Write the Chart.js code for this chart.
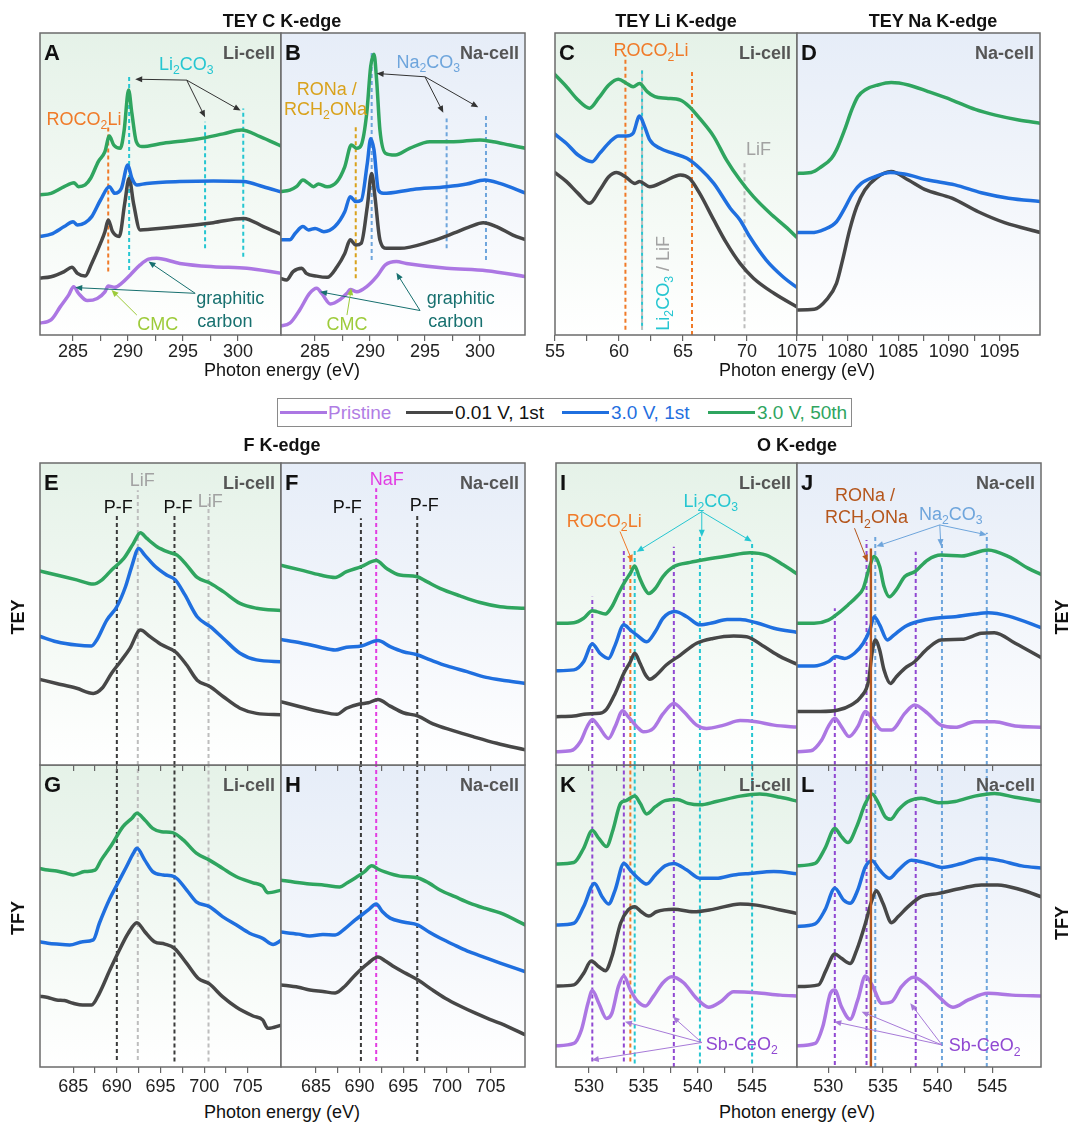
<!DOCTYPE html>
<html><head><meta charset="utf-8">
<script src="https://cdn.jsdelivr.net/npm/chart.js@4.4.1/dist/chart.umd.min.js"></script>
<style>
html,body{margin:0;padding:0;background:#fff;}
body{width:1068px;height:1122px;position:relative;overflow:hidden;font-family:"Liberation Sans",Arial,sans-serif;}
canvas{position:absolute;}
.t{position:absolute;white-space:nowrap;line-height:18px;font-size:18px;color:#111;}
.b{font-weight:bold;}
.c{transform:translateX(-50%);}
.r{transform:translate(-50%,-50%) rotate(-90deg);}
.ln{position:absolute;height:3px;}
</style></head><body>
<script>
// ================= DATA (energy eV, displayed intensity 0-100, stacked) =================
// Panel A : TEY C K-edge, Li-cell
const A_pristine = [[281.9,3.9],[283.0,5.0],[283.85,9.4],[284.6,13.2],[285.06,16.0],[285.5,13.8],[286.3,11.4],[287.2,12.1],[287.9,14.3],[288.2,16.2],[288.8,15.8],[289.4,17.1],[290.2,19.9],[291.1,23.2],[291.86,25.1],[292.6,25.4],[294.7,23.7],[297.75,22.6],[300.8,22.1],[304.0,20.4]];
const A_v001 = [[281.9,18.8],[283.0,19.3],[284.2,21.0],[284.9,22.4],[285.4,20.4],[286.1,19.5],[286.7,23.7],[287.5,30.4],[287.9,34.2],[288.2,38.1],[288.6,34.2],[289.2,32.6],[289.7,43.6],[290.1,51.9],[290.5,43.6],[291.1,34.8],[292.0,35.0],[294.7,35.9],[297.75,37.2],[300.5,38.6],[302.3,35.9],[304.0,33.2]];
const A_v30 = [[281.9,32.6],[283.0,33.4],[284.2,35.9],[285.0,37.5],[285.4,36.4],[286.1,37.2],[286.7,39.2],[287.5,44.7],[288.3,49.1],[288.8,46.9],[289.4,48.6],[289.98,56.3],[290.35,51.9],[290.8,49.7],[291.7,50.2],[294.7,50.8],[297.75,51.0],[300.5,50.8],[302.3,49.1],[304.0,47.3]];
const A_v30_50 = [[281.9,46.4],[283.0,46.9],[284.2,49.1],[285.1,50.4],[285.5,49.1],[286.1,49.7],[286.6,51.9],[287.3,57.4],[287.9,60.7],[288.3,65.9],[288.7,62.9],[289.3,61.8],[289.65,67.9],[290.05,81.1],[290.35,73.4],[290.75,64.0],[291.25,62.4],[293.2,63.5],[296.2,64.8],[298.65,66.6],[300.3,67.9],[302.0,65.7],[304.0,62.4]];
const A_refs = [["roco",288.2,21,69],["li2co3",290.1,21.5,86],["li2co3",297.0,28.7,70.6],["li2co3",300.47,25.9,75]];

// Panel B : TEY C K-edge, Na-cell
const B_pristine = [[281.8,3.0],[282.7,3.9],[283.6,8.3],[284.5,13.8],[285.15,15.5],[285.6,13.8],[286.4,10.3],[287.3,11.8],[287.9,13.8],[288.2,15.1],[288.8,14.3],[289.7,16.0],[290.6,19.3],[291.4,23.2],[292.4,24.3],[293.3,23.7],[296.97,22.1],[300.6,21.3],[304.2,19.3]];
const B_v001 = [[281.8,18.8],[282.4,18.2],[283.0,21.0],[283.8,22.1],[284.2,20.4],[285.15,19.5],[286.1,19.1],[287.0,22.6],[287.7,27.0],[288.2,31.5],[288.7,29.8],[289.2,30.4],[289.75,42.5],[290.15,53.5],[290.45,45.8],[290.9,31.5],[291.5,28.7],[292.7,28.7],[295.45,30.9],[297.6,33.7],[299.1,35.9],[300.3,37.2],[301.5,35.9],[303.0,33.1],[304.2,31.5]];
const B_v30 = [[281.8,31.5],[282.7,31.5],[283.2,33.7],[283.9,35.9],[284.4,34.8],[285.0,35.3],[285.8,34.2],[286.8,35.9],[287.7,40.8],[288.2,45.8],[288.7,44.2],[289.2,44.6],[289.75,56.8],[290.06,65.0],[290.36,61.3],[290.76,48.0],[291.2,46.9],[293.9,48.2],[296.97,49.1],[298.8,50.0],[300.45,51.3],[301.8,50.2],[304.2,46.9]];
const B_v30_50 = [[281.8,47.5],[282.7,48.0],[283.3,49.1],[283.9,51.3],[284.4,50.2],[284.85,49.1],[285.3,50.0],[286.1,49.1],[287.0,50.8],[287.7,55.7],[288.3,62.9],[288.8,61.8],[289.2,62.9],[289.7,73.4],[290.06,88.9],[290.36,93.0],[290.6,84.4],[290.9,67.9],[291.4,60.2],[292.3,59.6],[293.6,61.8],[295.45,64.0],[297.6,64.0],[300.0,64.6],[301.2,64.0],[302.7,62.9],[304.2,61.8]];
const B_refs = [["rona",288.7,18.8,69],["na2co3",290.15,24.8,94.4],["na2co3",296.97,28.7,71.7],["na2co3",300.55,24.8,72.8]];

// Panel C : TEY Li K-edge, Li-cell
const C_v001 = [[54.9,54.1],[55.9,50.8],[56.8,46.9],[57.7,43.6],[58.5,48.0],[59.2,52.4],[59.8,53.8],[60.5,52.4],[61.25,50.2],[61.6,50.8],[62.4,49.1],[63.5,50.8],[64.8,53.0],[65.5,51.9],[66.3,46.9],[67.4,38.1],[68.4,30.4],[69.45,23.7],[70.5,18.8],[72.1,13.8],[74.1,8.8]];
const C_v30 = [[54.9,66.8],[55.9,63.4],[56.8,59.6],[57.9,57.4],[58.5,60.2],[59.3,64.0],[59.95,65.9],[60.6,65.9],[61.1,66.8],[61.6,72.5],[62.0,69.0],[62.4,64.6],[63.2,61.8],[64.2,60.2],[65.3,58.5],[66.3,55.2],[67.4,50.2],[68.7,41.9],[69.45,38.1],[70.2,32.6],[71.5,24.8],[72.8,19.3],[74.1,15.1]];
const C_v30_50 = [[54.9,86.6],[55.9,82.2],[56.8,77.8],[57.7,75.1],[58.4,78.4],[59.2,82.8],[59.95,84.7],[60.6,83.3],[61.1,82.2],[61.6,83.3],[62.2,80.6],[62.8,78.9],[63.7,78.4],[64.8,77.8],[65.5,75.6],[66.3,71.7],[67.4,65.7],[68.4,57.9],[69.45,51.3],[70.5,45.8],[71.8,40.3],[73.0,35.9],[74.1,31.5]];
const C_refs = [["roco",60.5,1.7,92.7],["roco",65.7,0,87.2],["lif",61.8,1.7,87.7],["li2co3",61.8,1.7,87.7],["lif",69.8,2.2,57.4]];

// Panel D : TEY Na K-edge, Na-cell
const D_v001 = [[1074.9,8.3],[1076.7,8.5],[1077.9,11.6],[1078.9,17.1],[1079.5,24.8],[1080.2,34.8],[1080.9,42.5],[1081.7,48.0],[1082.8,51.9],[1084.3,54.1],[1086.0,51.3],[1087.6,48.2],[1090.3,45.3],[1092.9,40.8],[1095.5,37.2],[1099.1,33.9]];
const D_v30 = [[1074.9,33.9],[1076.4,33.9],[1077.7,35.0],[1078.9,37.5],[1079.7,41.9],[1080.5,46.9],[1081.35,50.2],[1082.7,52.4],[1084.2,53.8],[1085.6,53.3],[1087.95,51.3],[1090.6,49.7],[1093.2,47.1],[1095.9,45.3],[1099.1,44.2]];
const D_v30_50 = [[1074.9,53.5],[1076.4,53.8],[1077.4,55.7],[1078.4,58.5],[1078.9,61.3],[1079.7,67.9],[1080.4,74.5],[1081.0,78.9],[1081.8,81.3],[1083.0,82.8],[1084.3,83.6],[1086.0,82.8],[1087.95,80.6],[1090.3,77.8],[1092.6,74.7],[1094.6,72.8],[1096.9,71.2],[1099.1,70.1]];
const D_refs = [];

// Panel E : F K-edge TEY, Li-cell
const E_v001 = [[681.1,28.4],[683.1,27.0],[685.4,25.4],[687.3,23.7],[688.3,25.4],[689.4,30.4],[690.4,34.2],[691.5,38.6],[692.7,44.7],[693.8,42.5],[695.2,39.7],[696.7,37.5],[698.0,33.1],[699.2,28.1],[700.7,25.9],[702.2,22.6],[704.1,18.8],[706.0,17.1],[708.9,16.6]];
const E_v30 = [[681.1,42.7],[683.1,40.8],[685.4,39.7],[687.1,39.4],[687.7,41.4],[688.85,48.0],[690.0,52.4],[691.0,59.1],[691.7,65.7],[692.5,71.7],[693.2,69.5],[694.4,65.7],[695.7,62.9],[696.7,61.3],[697.8,56.3],[699.2,49.1],[700.7,45.8],[702.2,41.9],[704.1,37.0],[706.0,34.8],[708.9,34.2]];
const E_v30_50 = [[681.1,64.3],[683.1,62.9],[685.4,61.3],[687.3,59.9],[688.3,61.3],[689.4,64.6],[690.8,68.4],[691.9,73.4],[692.7,76.9],[693.4,75.1],[694.6,72.3],[696.1,70.3],[696.9,69.5],[698.0,66.2],[699.2,62.1],[700.7,60.2],[702.2,57.4],[704.1,53.5],[706.0,51.9],[708.9,51.1]];
const E_refs = [["pf",690.0,0,83.3],["lif",692.4,0,91],["pf",696.6,0,82.8],["lif",700.5,0,86.6]];

// Panel F : F K-edge TEY, Na-cell
const F_v001 = [[680.9,21.0],[683.2,19.3],[685.5,17.7],[687.4,16.8],[688.5,18.8],[690.0,20.2],[691.0,20.6],[692.1,21.7],[693.5,19.5],[695.0,17.3],[696.7,16.2],[698.4,13.6],[700.7,11.4],[703.0,9.4],[705.7,7.2],[709.0,5.0]];
const F_v30 = [[680.9,41.6],[683.2,40.5],[685.5,39.0],[687.2,38.1],[688.5,39.0],[690.2,39.4],[692.1,41.2],[693.5,39.2],[695.0,37.5],[696.5,36.6],[698.1,34.8],[700.0,32.8],[702.3,30.9],[704.5,29.0],[706.8,27.9],[709.0,27.0]];
const F_v30_50 = [[680.9,66.2],[683.2,64.6],[685.5,62.9],[687.2,62.1],[688.5,64.0],[690.2,65.7],[691.9,67.7],[693.1,65.1],[694.6,62.9],[696.5,62.4],[697.7,60.7],[699.2,58.5],[701.5,56.0],[703.8,53.8],[706.1,52.4],[709.0,51.9]];
const F_refs = [["pf",690.15,0,81.7],["naf",691.9,0,91.6],["pf",696.6,0,82.8]];

// Panel G : F K-edge TFY, Li-cell
const G_v001 = [[681.1,23.5],[682.1,23.0],[683.1,22.2],[684.0,22.0],[685.0,21.1],[686.1,20.5],[687.1,20.5],[688.0,24.4],[689.2,32.1],[690.1,37.6],[691.3,44.3],[692.3,47.8],[693.2,44.8],[694.3,41.5],[695.5,40.7],[696.6,39.3],[698.0,34.3],[699.3,29.4],[700.6,27.5],[702.1,23.3],[703.7,19.8],[705.6,16.9],[706.7,15.6],[707.3,12.8],[708.9,13.9]];
const G_v30 = [[681.1,41.5],[682.1,41.0],[683.1,40.7],[684.6,40.4],[686.1,41.5],[687.3,42.1],[688.0,47.6],[689.2,55.8],[690.1,60.8],[691.1,66.3],[691.9,70.8],[692.3,72.4],[693.2,68.5],[694.1,64.7],[695.3,63.6],[696.6,63.0],[698.0,58.6],[699.1,54.7],[700.6,53.1],[702.1,49.8],[703.7,47.0],[705.2,44.3],[706.7,42.6],[707.9,40.6],[708.9,42.1]];
const G_v30_50 = [[681.1,65.8],[682.1,65.2],[683.1,64.9],[684.0,64.3],[685.0,63.6],[686.3,64.7],[687.5,65.2],[688.2,68.5],[689.4,73.5],[690.7,79.6],[691.7,82.3],[692.3,84.0],[693.2,81.8],[694.1,79.0],[695.1,77.9],[696.4,77.6],[697.6,75.2],[699.1,70.8],[700.6,68.5],[702.1,65.8],[703.7,63.0],[705.6,61.0],[706.7,59.9],[707.3,57.7],[708.9,58.6]];
const G_refs = [["pf",690.0,2.3,100],["lif",692.4,2.3,100],["pf",696.6,1.8,100],["lif",700.5,1.8,100]];

// Panel H : F K-edge TFY, Na-cell
const H_v001 = [[680.9,27.2],[683.0,26.4],[684.3,25.5],[685.8,25.0],[687.2,24.5],[688.4,27.0],[689.5,30.5],[691.0,34.4],[692.1,36.4],[693.0,35.0],[694.0,33.1],[695.3,31.0],[696.7,28.8],[698.2,25.8],[699.8,22.8],[701.5,20.2],[703.2,17.9],[704.9,15.8],[706.6,13.9],[709.0,10.6]];
const H_v30 = [[680.9,44.7],[683.0,44.0],[684.3,43.4],[685.8,43.9],[687.2,43.7],[688.4,46.0],[689.5,48.7],[691.0,52.0],[691.9,54.0],[692.6,51.5],[693.5,49.3],[695.0,48.0],[696.7,47.0],[698.0,44.6],[699.2,42.7],[701.0,40.2],[702.6,38.1],[704.3,36.3],[706.1,34.4],[709.0,31.5]];
const H_v30_50 = [[680.9,61.9],[682.6,61.2],[684.3,60.6],[686.0,60.2],[687.7,59.6],[688.6,61.0],[689.5,62.6],[690.5,64.5],[691.4,66.6],[692.2,65.4],[692.9,64.6],[694.6,63.2],[696.7,62.6],[698.0,60.8],[699.2,58.6],[701.0,56.3],[702.6,54.3],[704.3,52.6],[706.1,51.0],[709.0,47.0]];
const H_refs = [["pf",690.15,2,100],["naf",691.9,2,100],["pf",696.6,2,100]];

// Panel I : O K-edge TEY, Li-cell
const I_pristine = [[526.9,4.4],[528.3,4.7],[529.2,7.7],[529.8,12.5],[530.3,15.1],[530.9,12.7],[531.8,8.8],[532.4,12.7],[533.1,18.0],[533.6,16.0],[534.4,12.7],[535.0,11.0],[535.9,12.1],[536.8,16.9],[537.8,20.4],[538.7,17.7],[539.9,13.2],[540.8,12.1],[542.4,13.2],[543.9,14.7],[545.4,14.3],[547.0,13.2],[549.3,12.5]];
const I_v001 = [[526.9,16.0],[528.6,16.2],[529.8,16.9],[531.0,17.1],[531.6,18.4],[532.4,23.7],[533.2,30.4],[533.8,34.2],[534.2,37.0],[534.7,33.6],[535.2,29.8],[535.6,28.4],[536.2,29.8],[537.1,33.1],[538.4,36.4],[539.9,40.3],[541.4,41.9],[543.3,42.7],[544.5,42.5],[546.1,39.2],[547.6,35.9],[549.3,33.1]];
const I_v30 = [[526.9,31.2],[528.6,31.5],[529.5,34.2],[530.3,40.1],[531.0,37.0],[531.8,35.3],[532.4,39.7],[533.2,46.4],[533.8,44.7],[534.4,43.0],[535.3,40.8],[536.1,44.2],[536.8,48.6],[537.9,50.8],[539.0,49.1],[540.2,46.4],[541.4,47.1],[542.7,48.2],[543.9,48.2],[545.4,47.1],[547.0,45.3],[549.3,43.8]];
const I_v30_50 = [[526.9,46.9],[528.6,47.1],[529.5,48.6],[530.3,51.1],[530.7,50.8],[531.5,50.0],[532.1,52.4],[532.7,56.8],[533.3,60.7],[533.8,63.5],[534.2,65.9],[534.6,62.4],[535.1,58.5],[535.5,56.8],[536.1,58.5],[536.8,62.4],[537.8,65.7],[539.3,67.1],[540.8,68.1],[542.7,69.2],[544.8,70.3],[546.3,69.5],[547.9,66.2],[549.3,62.9]];
const I_refs = [["sb",530.3,0,55.7],["sb",533.2,0,71.2],["sb",537.8,0,72.3],["roco",533.8,0,69.5],["li2co3",534.2,0,71.2],["li2co3",540.2,0,75.6],["li2co3",545.0,0,73.9]];

// Panel J : O K-edge TEY, Na-cell
const J_pristine = [[527.0,4.4],[528.4,4.7],[529.4,8.3],[530.0,12.7],[530.6,15.5],[531.2,12.7],[531.9,9.4],[532.7,12.7],[533.4,17.7],[534.0,15.5],[534.9,11.6],[535.8,11.6],[537.0,17.1],[537.9,19.9],[539.1,17.1],[540.3,13.2],[541.6,12.5],[543.4,14.3],[545.2,14.3],[547.1,12.9],[549.6,12.5]];
const J_v001 = [[527.0,17.7],[529.3,17.7],[530.9,18.2],[532.1,19.9],[533.0,22.6],[533.7,28.1],[534.0,37.0],[534.3,41.4],[534.7,38.1],[535.1,31.5],[535.7,27.0],[536.2,29.1],[537.0,32.0],[537.9,34.2],[539.1,38.6],[540.3,41.4],[542.2,41.6],[544.0,43.6],[545.2,43.8],[547.1,40.3],[549.6,35.3]];
const J_v30 = [[527.0,32.8],[528.7,32.8],[530.0,34.2],[530.7,35.9],[531.5,35.3],[532.4,37.0],[533.2,40.3],[533.8,44.7],[534.2,49.1],[534.7,46.4],[535.4,41.4],[536.0,43.0],[537.0,45.8],[538.2,47.5],[539.8,48.6],[541.6,49.1],[543.4,50.0],[544.6,50.4],[546.5,49.3],[549.6,45.3]];
const J_v30_50 = [[527.0,46.9],[528.7,46.9],[530.0,48.0],[530.9,50.2],[531.8,53.0],[532.6,55.7],[533.2,58.5],[533.7,64.6],[534.2,69.0],[534.7,65.7],[535.1,59.1],[535.6,55.7],[536.2,57.9],[537.0,62.4],[537.9,64.0],[539.1,67.9],[540.3,69.5],[542.2,69.2],[544.6,71.2],[546.5,69.0],[548.3,65.1],[549.6,62.9]];
const J_refs = [["sb",530.6,0,51.9],["sb",533.5,0,74.5],["sb",538.0,0,70.6],["na2co3",534.3,0,75.8],["na2co3",540.4,0,73.9],["na2co3",544.5,0,76.9],["rona2",533.9,0,71.7]];

// Panel K : O K-edge TFY, Li-cell
const K_pristine = [[526.9,7.0],[528.6,7.8],[529.3,12.3],[529.9,21.1],[530.3,25.3],[530.9,21.1],[531.6,16.1],[532.1,17.8],[532.7,26.6],[533.2,30.1],[533.8,25.5],[534.5,21.6],[535.2,20.2],[535.9,23.3],[536.8,27.9],[537.6,29.9],[538.7,27.9],[539.9,22.7],[541.0,19.8],[542.1,21.6],[543.3,24.9],[545.4,24.6],[547.6,23.8],[549.3,23.5]];
const K_v001 = [[526.9,26.8],[528.6,27.2],[529.5,31.0],[530.2,35.1],[530.9,33.2],[531.5,31.9],[532.1,36.5],[532.9,47.6],[533.6,52.0],[534.2,53.1],[534.8,51.4],[535.5,50.0],[536.2,51.4],[537.8,52.2],[539.6,51.4],[541.4,52.2],[543.9,54.0],[545.4,53.6],[547.6,52.0],[549.3,50.7]];
const K_v30 = [[526.9,47.0],[528.6,47.6],[529.5,53.1],[530.5,60.8],[531.2,56.4],[531.8,54.0],[532.4,58.6],[533.2,67.4],[533.9,64.7],[534.7,61.9],[535.3,60.6],[536.1,63.6],[537.0,66.6],[537.8,67.4],[539.0,65.2],[540.2,62.5],[541.7,62.5],[543.3,63.6],[544.8,64.1],[547.0,64.7],[549.3,63.9]];
const K_v30_50 = [[526.9,67.2],[528.6,67.7],[529.5,72.4],[530.3,78.3],[530.9,75.7],[531.6,73.0],[532.2,78.5],[532.9,87.3],[533.4,88.2],[534.2,89.7],[534.7,87.3],[535.3,83.8],[536.1,86.2],[537.0,88.2],[538.1,88.6],[539.1,87.3],[540.2,86.8],[541.7,87.9],[543.9,89.7],[545.7,90.4],[547.6,89.3],[549.3,87.9]];
const K_refs = [["sb",530.3,1.8,100],["sb",533.2,1.8,100],["sb",537.8,0,100],["roco",533.8,1.8,100],["li2co3",534.2,1.2,100],["li2co3",540.2,1.2,100],["li2co3",545.0,1.2,100]];

// Panel L : O K-edge TFY, Na-cell
const L_pristine = [[527.0,7.0],[528.8,7.8],[529.5,13.4],[530.2,24.4],[530.6,25.5],[531.2,20.0],[532.0,15.8],[532.7,22.2],[533.4,30.1],[534.0,27.2],[534.9,21.1],[535.8,21.6],[536.7,26.6],[537.8,29.7],[538.8,27.7],[540.1,23.3],[541.4,19.8],[542.8,22.2],[544.6,24.4],[546.8,23.8],[549.6,23.5]];
const L_v001 = [[527.0,26.6],[529.1,27.2],[529.8,32.1],[530.6,37.4],[531.2,36.0],[532.0,34.3],[532.6,38.7],[533.4,47.6],[534.0,55.3],[534.4,58.4],[535.0,54.2],[535.8,47.8],[536.4,49.8],[537.3,53.1],[538.5,56.4],[540.1,57.5],[542.2,59.2],[544.0,60.3],[545.5,60.3],[547.7,58.6],[549.6,56.2]];
const L_v30 = [[527.0,46.5],[528.8,47.4],[529.7,52.0],[530.6,59.2],[531.4,55.3],[532.0,54.2],[532.7,58.6],[533.4,66.3],[534.0,68.3],[534.7,65.2],[535.6,62.5],[536.4,65.2],[537.6,68.5],[539.1,67.4],[540.4,66.1],[542.2,67.4],[544.0,69.1],[545.5,68.5],[547.7,66.6],[549.6,65.8]];
const L_v30_50 = [[527.0,66.6],[528.8,67.4],[529.7,72.4],[530.6,79.0],[531.2,76.3],[531.8,74.3],[532.6,79.6],[533.4,87.3],[534.0,90.4],[534.6,87.3],[535.2,82.9],[535.7,82.0],[536.4,85.1],[537.3,87.9],[538.5,89.0],[540.1,87.5],[541.6,87.9],[543.4,89.7],[545.2,90.6],[547.1,89.3],[549.6,87.9]];
const L_refs = [["sb",530.6,0.7,100],["sb",533.5,0.7,100],["sb",538.0,0,100],["na2co3",534.3,0,100],["na2co3",540.4,0,100],["na2co3",544.5,0,100],["rona2",533.9,0,100]];

// Legend / series labels
const SERIES_LABELS = ["Pristine","0.01 V, 1st","3.0 V, 1st","3.0 V, 50th"];
const TICK_STEP = 2.5, LABEL_STEP = 5;

// ================= STYLE =================
const COL = {p:'#ac77e3', k:'#474747', b:'#1f6fdf', g:'#2fa55f'};
const REF = {
  roco:{c:'#f07a28',dash:[4,3]}, li2co3:{c:'#25c6d1',dash:[4,3]}, na2co3:{c:'#6ea5dc',dash:[4,3]},
  rona:{c:'#d9a21c',dash:[4,3]}, rona2:{c:'#b5561c',dash:[],w:2.4,top:true}, lif:{c:'#bdbdbd',dash:[4,3]},
  naf:{c:'#e23de2',dash:[4,3]}, pf:{c:'#3a3a3a',dash:[4,3]}, sb:{c:'#9048d2',dash:[4,3]}
};
const TX = {roco:'#f07a28', li2co3:'#25c6d1', na2co3:'#6ea5dc', rona:'#d9a21c', rona2:'#b5561c',
  lif:'#a2a2a2', naf:'#e23de2', teal:'#17706f', cmc:'#9dcb3a', sb:'#9048d2', dark:'#333'};

const PANELS = [
 {id:'A',rect:[40,33,281,335],xr:[282.0,303.9],cell:'Li',lab:true,s:{p:A_pristine,k:A_v001,b:A_v30,g:A_v30_50},refs:A_refs},
 {id:'B',rect:[281,33,525,335],xr:[281.9,304.1],cell:'Na',lab:true,s:{p:B_pristine,k:B_v001,b:B_v30,g:B_v30_50},refs:B_refs},
 {id:'C',rect:[555,33,797,335],xr:[55,73.9],cell:'Li',lab:true,s:{k:C_v001,b:C_v30,g:C_v30_50},refs:C_refs},
 {id:'D',rect:[797,33,1040,335],xr:[1075,1099],cell:'Na',lab:true,s:{k:D_v001,b:D_v30,g:D_v30_50},refs:D_refs},
 {id:'G',rect:[40,765,281,1067],xr:[681.2,708.8],cell:'Li',lab:true,s:{k:G_v001,b:G_v30,g:G_v30_50},refs:G_refs},
 {id:'H',rect:[281,765,525,1067],xr:[681.0,708.94],cell:'Na',lab:true,s:{k:H_v001,b:H_v30,g:H_v30_50},refs:H_refs},
 {id:'K',rect:[556,765,797,1067],xr:[526.96,549.13],cell:'Li',lab:true,s:{p:K_pristine,k:K_v001,b:K_v30,g:K_v30_50},refs:K_refs},
 {id:'L',rect:[797,765,1041,1067],xr:[527.14,549.46],cell:'Na',lab:true,s:{p:L_pristine,k:L_v001,b:L_v30,g:L_v30_50},refs:L_refs},
 {id:'E',rect:[40,463,281,765],xr:[681.2,708.8],cell:'Li',lab:false,s:{k:E_v001,b:E_v30,g:E_v30_50},refs:E_refs},
 {id:'F',rect:[281,463,525,765],xr:[681.0,708.94],cell:'Na',lab:false,s:{k:F_v001,b:F_v30,g:F_v30_50},refs:F_refs},
 {id:'I',rect:[556,463,797,765],xr:[526.96,549.13],cell:'Li',lab:false,s:{p:I_pristine,k:I_v001,b:I_v30,g:I_v30_50},refs:I_refs},
 {id:'J',rect:[797,463,1041,765],xr:[527.14,549.46],cell:'Na',lab:false,s:{p:J_pristine,k:J_v001,b:J_v30,g:J_v30_50},refs:J_refs},
];

const ANN = {
 A:{texts:[
   {p:[['Li_2CO_3',TX.li2co3]],e:295.3,v:90},
   {p:[['ROCO_2Li',TX.roco]],e:286.0,v:71.7},
   {p:[['graphitic',TX.teal]],e:296.2,v:12.3,al:'left'},
   {p:[['carbon',TX.teal]],e:296.3,v:4.9,al:'left'},
   {p:[['CMC',TX.cmc]],e:292.7,v:3.9}],
  arrows:[{c:'#333',from:[295.33,84.4],to:[[290.65,84.7],[297.0,72.1],[300.23,74.3]]},
   {c:TX.teal,from:[296.1,13.8],to:[[291.86,24.3],[285.2,15.7]]},
   {c:TX.cmc,from:[290.8,6.6],to:[[288.5,14.9]]}]},
 B:{texts:[
   {p:[['Na_2CO_3',TX.na2co3]],e:295.3,v:90.5},
   {p:[['RONa /',TX.rona]],e:286.06,v:81.7},
   {p:[['RCH_2ONa',TX.rona]],e:285.95,v:75.1},
   {p:[['graphitic',TX.teal]],e:295.15,v:12.5,al:'left'},
   {p:[['carbon',TX.teal]],e:295.3,v:4.9,al:'left'},
   {p:[['CMC',TX.cmc]],e:287.9,v:3.9}],
  arrows:[{c:'#333',from:[295.0,85.5],to:[[290.6,86.6],[296.67,73.6],[299.85,75.4]]},
   {c:TX.teal,from:[294.55,8.1],to:[[292.4,20.6],[285.45,14.3]]},
   {c:TX.cmc,from:[287.9,6.6],to:[[288.3,15.5]]}]},
 C:{texts:[
   {p:[['ROCO_2Li',TX.roco]],e:62.5,v:94.4},
   {p:[['LiF',TX.lif]],e:70.9,v:61.8},
   {p:[['Li_2CO_3',TX.li2co3],[' / LiF',TX.lif]],e:63.4,v:17.1,rot:true}],arrows:[]},
 D:{texts:[],arrows:[]},
 E:{texts:[
   {p:[['LiF',TX.lif]],e:692.9,v:94.6},
   {p:[['P-F','#111']],e:690.15,v:85.5},
   {p:[['P-F','#111']],e:697.0,v:85.5},
   {p:[['LiF',TX.lif]],e:700.7,v:87.7}],arrows:[]},
 F:{texts:[
   {p:[['NaF',TX.naf]],e:693.1,v:94.9},
   {p:[['P-F','#111']],e:688.6,v:85.5},
   {p:[['P-F','#111']],e:697.4,v:86.1}],arrows:[]},
 G:{texts:[],arrows:[]}, H:{texts:[],arrows:[]},
 I:{texts:[
   {p:[['Li_2CO_3',TX.li2co3]],e:541.2,v:87.7},
   {p:[['ROCO_2Li',TX.roco]],e:531.4,v:81.1}],
  arrows:[{c:TX.li2co3,from:[540.37,83.9],to:[[534.39,70.6],[540.37,75.6],[544.97,74.0]]},
   {c:TX.roco,from:[532.85,77.3],to:[[534.0,67.3]]}]},
 J:{texts:[
   {p:[['RONa /',TX.rona2]],e:533.35,v:89.4},
   {p:[['RCH_2ONa',TX.rona2]],e:533.5,v:82.2},
   {p:[['Na_2CO_3',TX.na2co3]],e:541.2,v:83.3}],
  arrows:[{c:TX.na2co3,from:[540.2,79.5],to:[[534.4,72.4],[540.3,72.5],[544.5,76.2]]},
   {c:TX.rona2,from:[532.4,78.4],to:[[533.6,67.3]]}]},
 K:{texts:[{p:[['Sb-CeO_2',TX.sb]],e:544.05,v:7.8}],
  arrows:[{c:'#a77ad8',from:[540.37,8.1],to:[[530.25,2.3],[533.3,15.0],[537.7,16.7]]}]},
 L:{texts:[{p:[['Sb-CeO_2',TX.sb]],e:544.3,v:7.3}],
  arrows:[{c:'#a77ad8',from:[540.4,7.3],to:[[530.55,15.0],[533.05,18.3],[537.5,21.1]]}]},
};

const FONT = '"Liberation Sans", Arial, sans-serif';
const PAD = 30, PADT = 4;
const BYID = {};

function segsOf(parts){
  const segs=[];
  parts.forEach(([s,c])=>{
    for(let i=0;i<s.length;i++){
      if(s[i]==='_'){segs.push({t:s[i+1],sub:true,c});i++;}
      else{const l=segs[segs.length-1]; if(l && !l.sub && l.c===c) l.t+=s[i]; else segs.push({t:s[i],sub:false,c});}
    }
  });
  return segs;
}
function drawRich(ctx,parts,x,y,size,align,bold){
  const segs=segsOf(parts);
  const f=s=>(bold?'bold ':'')+s+'px '+FONT;
  let w=0; segs.forEach(s=>{ctx.font=f(s.sub?size*0.68:size); s.w=ctx.measureText(s.t).width; w+=s.w;});
  let cx = align==='left'? x : align==='right'? x-w : x-w/2;
  const base=y+size*0.36;
  ctx.textAlign='left'; ctx.textBaseline='alphabetic';
  segs.forEach(s=>{ctx.font=f(s.sub?size*0.68:size); ctx.fillStyle=s.c; ctx.fillText(s.t,cx,s.sub?base+size*0.24:base); cx+=s.w;});
}
function drawArrow(ctx,x1,y1,x2,y2,c){
  const a=Math.atan2(y2-y1,x2-x1), L=7, H=3;
  ctx.strokeStyle=c; ctx.fillStyle=c; ctx.lineWidth=1; ctx.setLineDash([]);
  ctx.beginPath(); ctx.moveTo(x1,y1); ctx.lineTo(x2-Math.cos(a)*L*0.8,y2-Math.sin(a)*L*0.8); ctx.stroke();
  ctx.beginPath(); ctx.moveTo(x2,y2);
  ctx.lineTo(x2-L*Math.cos(a)+H*Math.sin(a), y2-L*Math.sin(a)-H*Math.cos(a));
  ctx.lineTo(x2-L*Math.cos(a)-H*Math.sin(a), y2-L*Math.sin(a)+H*Math.cos(a));
  ctx.closePath(); ctx.fill();
}

const panelPlugin = {
  id:'panelDeco',
  beforeDraw(chart){
    const P=BYID[chart.canvas.id]; if(!P) return;
    const a=chart.chartArea, ctx=chart.ctx;
    const g=ctx.createLinearGradient(0,a.top,0,a.bottom);
    if(P.cell==='Li'){g.addColorStop(0,'#e5f2e8');g.addColorStop(0.55,'#f3f9f4');g.addColorStop(1,'#ffffff');}
    else{g.addColorStop(0,'#e6edf8');g.addColorStop(0.55,'#f3f6fb');g.addColorStop(1,'#ffffff');}
    ctx.save(); ctx.fillStyle=g; ctx.fillRect(a.left,a.top,a.right-a.left,a.bottom-a.top); ctx.restore();
  },
  afterDraw(chart){
    const P=BYID[chart.canvas.id]; if(!P) return;
    const a=chart.chartArea, ctx=chart.ctx, xs=chart.scales.x, ys=chart.scales.y;
    ctx.save();
    const an=ANN[P.id]||{texts:[],arrows:[]};
    an.arrows.forEach(ar=>{
      const x1=xs.getPixelForValue(ar.from[0]), y1=ys.getPixelForValue(ar.from[1]);
      ar.to.forEach(t=>drawArrow(ctx,x1,y1,xs.getPixelForValue(t[0]),ys.getPixelForValue(t[1]),ar.c));
    });
    an.texts.forEach(t=>{
      const x=xs.getPixelForValue(t.e), y=ys.getPixelForValue(t.v);
      if(t.rot){ctx.save(); ctx.translate(x,y); ctx.rotate(-Math.PI/2); drawRich(ctx,t.p,0,0,18,'center',false); ctx.restore();}
      else drawRich(ctx,t.p,x,y,18,t.al||'center',false);
    });
    ctx.strokeStyle='#6b6b6b'; ctx.lineWidth=1.5; ctx.setLineDash([]);
    ctx.strokeRect(a.left,a.top,a.right-a.left,a.bottom-a.top);
    ctx.fillStyle='#111'; ctx.font='bold 22px '+FONT; ctx.textAlign='left'; ctx.textBaseline='alphabetic';
    ctx.fillText(P.id,a.left+4,a.top+27);
    ctx.fillStyle='#555'; ctx.font='bold 18px '+FONT; ctx.textAlign='right';
    ctx.fillText(P.cell==='Li'?'Li-cell':'Na-cell',a.right-6,a.top+26);
    ctx.restore();
  }
};
Chart.register(panelPlugin);

function toXY(arr){return arr.map(p=>({x:p[0],y:p[1]}));}

PANELS.forEach(P=>{
  BYID['cv'+P.id]=P;
  const [L,T,R,B]=P.rect, axH=P.lab?34:7;
  const cv=document.createElement('canvas');
  cv.id='cv'+P.id;
  const W=R-L+2*PAD, H=B-T+PADT+axH;
  cv.width=W; cv.height=H; cv.style.width=W+'px'; cv.style.height=H+'px';
  cv.style.left=(L-PAD)+'px'; cv.style.top=(T-PADT)+'px';
  document.body.appendChild(cv);
  const ds=[];
  ['g','b','k','p'].forEach(k=>{ if(P.s[k]) ds.push({data:toXY(P.s[k]),borderColor:COL[k],borderWidth:3.5,pointRadius:0,
      cubicInterpolationMode:'monotone',fill:false,order:0,clip:0}); });
  P.refs.forEach(r=>{const st=REF[r[0]];
    ds.push({data:[{x:r[1],y:r[2]},{x:r[1],y:r[3]}],borderColor:st.c,borderWidth:st.w||2,borderDash:st.dash,
      borderDashOffset:(r[0]==='li2co3'&&P.id==='C')?3.5:0,pointRadius:0,fill:false,order:st.top?-1:1,clip:0});});
  new Chart(cv,{type:'line',data:{datasets:ds},
    options:{responsive:false,animation:false,events:[],devicePixelRatio:1,
      layout:{padding:{left:PAD,right:PAD,top:PADT,bottom:0}},
      plugins:{legend:{display:false},tooltip:{enabled:false},title:{display:false}},
      scales:{
        x:{type:'linear',min:P.xr[0],max:P.xr[1],position:'bottom',
          border:{display:false},
          grid:{display:true,drawOnChartArea:false,drawTicks:true,tickLength:6,color:'#666',lineWidth:1.2},
          ticks:{stepSize:TICK_STEP,autoSkip:false,maxRotation:0,minRotation:0,padding:P.rect[1]>700?3:0,color:'#222',
            font:{family:FONT,size:18},
            callback:(v)=> (P.lab && Math.abs(v/LABEL_STEP-Math.round(v/LABEL_STEP))<1e-6) ? String(Math.round(v)) : ''},
          afterBuildTicks:(s)=>{s.ticks=s.ticks.filter(t=>Math.abs(t.value/TICK_STEP-Math.round(t.value/TICK_STEP))<1e-6);},
          afterFit:(s)=>{s.height=axH; s.paddingLeft=0; s.paddingRight=0;}
        },
        y:{type:'linear',min:0,max:100,display:false}
      }}});
});

// ---- figure-level text (titles, axis titles, legend) ----
function addText(txt,x,y,cls,color){const d=document.createElement('div'); d.className='t '+cls; d.style.left=x+'px'; d.style.top=y+'px'; if(color) d.style.color=color; d.textContent=txt; document.body.appendChild(d); return d;}
addText('TEY C K-edge',282,12,'b c');
addText('TEY Li K-edge',676,12,'b c');
addText('TEY Na K-edge',933,12,'b c');
addText('F K-edge',282,436,'b c');
addText('O K-edge',797,436,'b c');
addText('Photon energy (eV)',282,361,'c');
addText('Photon energy (eV)',797,361,'c');
addText('Photon energy (eV)',282,1103,'c');
addText('Photon energy (eV)',797,1103,'c');
addText('TEY',18,617,'b r');
addText('TFY',18,918,'b r');
addText('TEY',1062,617,'b r');
addText('TFY',1062,923,'b r');

const lg=document.createElement('div');
lg.style.cssText='position:absolute;left:277px;top:398px;width:573px;height:27px;border:1px solid #8a8a8a;';
document.body.appendChild(lg);
const LG_X=[[280,328],[406,455],[562,611],[708,757]];
const LG_C=[COL.p,COL.k,COL.b,COL.g];
const LG_T=['#b07de4','#111','#1f6fdf','#2fa55f'];
SERIES_LABELS.forEach((s,i)=>{
  const l=document.createElement('div'); l.className='ln'; l.style.left=LG_X[i][0]+'px'; l.style.top='411px'; l.style.width='47px'; l.style.background=LG_C[i];
  document.body.appendChild(l);
  const d=addText(s,LG_X[i][1],403,'',LG_T[i]); d.style.fontSize='19px'; d.style.lineHeight='19px';
});
</script>
</body></html>
